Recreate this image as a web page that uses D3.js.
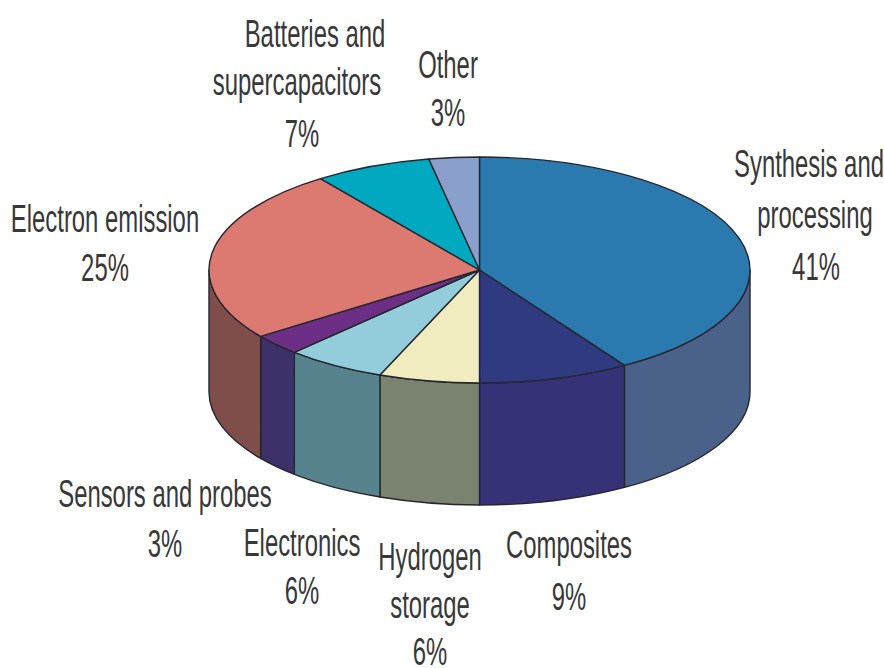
<!DOCTYPE html>
<html>
<head>
<meta charset="utf-8">
<style>
  html, body { margin: 0; padding: 0; background: #fff; }
  svg { display: block; }
  text { font-family: "Liberation Sans", Arial, sans-serif; fill: #383838; }
</style>
<script src="https://cdn.jsdelivr.net/npm/d3@7"></script>
</head>
<body>
<svg id="chart" width="884" height="668"></svg>
<script>
const categories = ["Synthesis and processing", "Composites", "Hydrogen storage", "Electronics",
  "Sensors and probes", "Electron emission", "Batteries and supercapacitors", "Other"];
const shares = [41, 9, 6, 6, 3, 25, 7, 3];
const topColors = ["#2a7ab0", "#2f3a80", "#f0ecbf", "#93cddb", "#6d2f85", "#dc7a72", "#00a9bf", "#8a9fcb"];
const sideColors = ["#4a6189", "#353278", "#7a8370", "#56838d", "#3e3068", "#7f4d4a", "#00a9bf", "#8a9fcb"];

// how each category name wraps, and where its block of text sits
const labelLines = [
  ["Synthesis and", "processing"], ["Composites"], ["Hydrogen", "storage"], ["Electronics"],
  ["Sensors and probes"], ["Electron emission"], ["Batteries and", "supercapacitors"], ["Other"]
];
const labelX = [
  [809, 815, 816], [569, 569], [430, 430, 430], [302, 302],
  [165, 165], [105, 105], [315, 297, 302], [448, 448]
];
const labelY = [
  [177, 228, 280], [558, 610], [570, 618, 665], [556, 604],
  [507, 557], [232, 281], [47, 95, 147], [78, 126]
];

const cx = 479.5, cy = 270, rx = 270.5, ry = 113, depth = 122;
const svg = d3.select("#chart");

const pie = d3.pie().sort(null).value(d => d);
const slices = pie(shares);

function px(a) { return cx + rx * Math.sin(a); }
function py(a) { return cy - ry * Math.cos(a); }

// wall of a slice, only the part that faces the viewer (90deg to 270deg)
function wall(d) {
  const a0 = Math.max(d.startAngle, Math.PI / 2);
  const a1 = Math.min(d.endAngle, Math.PI * 1.5);
  if (a1 <= a0) return null;
  return `M${px(a0)},${py(a0)}` +
    `A${rx},${ry} 0 0 1 ${px(a1)},${py(a1)}` +
    `L${px(a1)},${py(a1) + depth}` +
    `A${rx},${ry} 0 0 0 ${px(a0)},${py(a0) + depth}Z`;
}

svg.append("g").selectAll("path")
  .data(slices.filter(wall))
  .join("path")
  .attr("d", wall)
  .attr("fill", d => sideColors[d.index])
  .attr("stroke", "#26262e")
  .attr("stroke-width", 1.4)
  .attr("stroke-linejoin", "round");

// top face: a flat d3.arc squashed into an ellipse
const arc = d3.arc().innerRadius(0).outerRadius(rx);
svg.append("g")
  .attr("transform", `translate(${cx},${cy}) scale(1,${ry / rx})`)
  .selectAll("path")
  .data(slices)
  .join("path")
  .attr("d", arc)
  .attr("fill", d => topColors[d.index])
  .attr("stroke", "#26262e")
  .attr("stroke-width", 1.4)
  .attr("vector-effect", "non-scaling-stroke")
  .attr("stroke-linejoin", "round");

// labels are tall and narrow, so the font is squeezed horizontally
const xSqueeze = 0.62;
const labels = svg.append("g").selectAll("g")
  .data(categories)
  .join("g");

labels.each(function(name, i) {
  const lines = labelLines[i].concat(shares[i] + "%");
  d3.select(this).selectAll("text")
    .data(lines)
    .join("text")
    .attr("text-anchor", "middle")
    .attr("font-size", 38.5)
    .attr("transform", (t, j) => `translate(${labelX[i][j]},${labelY[i][j]}) scale(${xSqueeze},1)`)
    .text(t => t);
});
</script>
</body>
</html>
